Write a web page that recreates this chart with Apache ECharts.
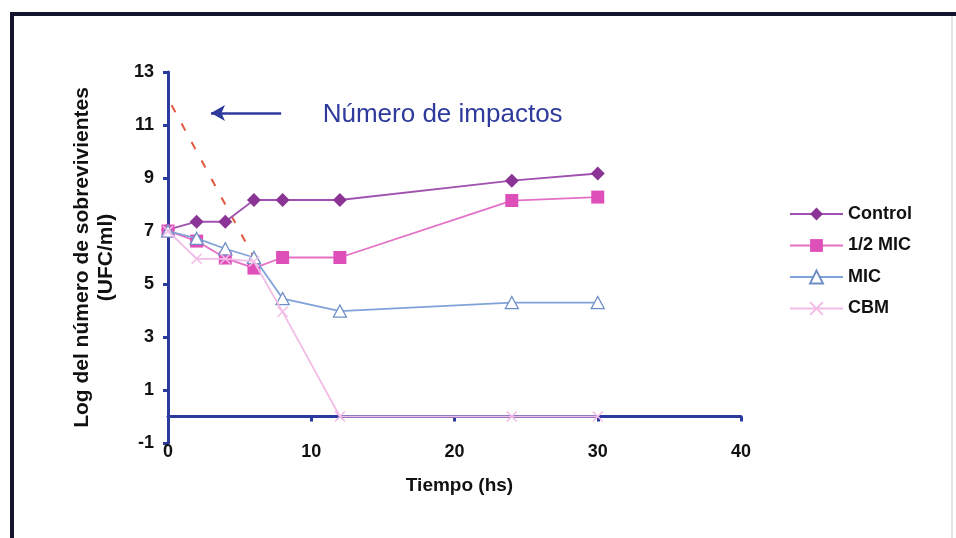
<!DOCTYPE html>
<html><head><meta charset="utf-8">
<script src="https://cdn.jsdelivr.net/npm/echarts@6/dist/echarts.min.js"></script>
<style>html,body{margin:0;padding:0;background:#fff}#c{width:956px;height:538px}</style>
</head><body><div id="c"></div>
<script>
// ---- data ----
const times = [0, 2, 4, 6, 8, 12, 24, 30];
const control = [7.05, 7.35, 7.35, 8.17, 8.17, 8.17, 8.9, 9.17];
const halfMic = [7.0, 6.62, 5.98, 5.6, 6.0, 6.0, 8.15, 8.28];
const mic = [7.0, 6.72, 6.33, 6.0, 4.45, 3.98, 4.3, 4.3];
const cbm = [7.0, 5.95, 5.95, 5.85, 3.95, 0, 0, 0];
const impactTimes = [0.25, 6];
const impactValues = [11.75, 6.0];
const seriesNames = ['Control', '1/2 MIC', 'MIC', 'CBM'];
const xTicks = [0, 10, 20, 30, 40];
const yTicks = [-1, 1, 3, 5, 7, 9, 11, 13];
const xAxisTitle = 'Tiempo (hs)';
const yAxisTitle = 'Log del número de sobrevivientes\n(UFC/ml)';
const annotationText = 'Número de impactos';
const arrowFrom = [7.9, 11.45];
const arrowTo = [3.0, 11.45];
const textAt = [10.8, 11.4];

function pairs(xs, ys) { return xs.map((x, i) => [x, ys[i]]); }

const AX = '#2B3A9E';
const FONT = '"Liberation Sans", Arial, sans-serif';
const chart = echarts.init(document.getElementById('c'), null, {renderer: 'canvas'});

const option = {
  animation: false,
  backgroundColor: '#ffffff',
  grid: {left: 168, right: 215, top: 72, bottom: 95, containLabel: false},
  legend: {
    data: seriesNames,
    orient: 'vertical',
    left: 784, top: 200,
    itemWidth: 53, itemHeight: 16, itemGap: 13.5,
    textStyle: {fontFamily: FONT, fontWeight: 'bold', fontSize: 18, color: '#111', lineHeight: 18}
  },
  xAxis: {
    type: 'value', min: xTicks[0], max: xTicks[xTicks.length - 1], interval: 10,
    name: xAxisTitle, nameLocation: 'middle', nameGap: 33,
    nameTextStyle: {fontFamily: FONT, fontWeight: 'bold', fontSize: 19, color: '#111', padding: [0, 0, 0, 10]},
    axisLine: {onZero: true, lineStyle: {color: AX, width: 3}},
    axisTick: {show: true, length: 5, lineStyle: {color: AX, width: 3}},
    axisLabel: {margin: 0, fontFamily: FONT, fontWeight: 'bold', fontSize: 18, color: '#111'},
    splitLine: {show: false}
  },
  yAxis: {
    type: 'value', min: yTicks[0], max: yTicks[yTicks.length - 1],
    name: yAxisTitle, nameLocation: 'middle', nameRotate: 90, nameGap: 50,
    nameTextStyle: {fontFamily: FONT, fontWeight: 'bold', fontSize: 21, color: '#111', lineHeight: 24, align: 'center'},
    axisLine: {show: true, lineStyle: {color: AX, width: 3}},
    axisTick: {show: true, length: 5, customValues: yTicks, lineStyle: {color: AX, width: 3}},
    axisLabel: {margin: 14, customValues: yTicks, fontFamily: FONT, fontWeight: 'bold', fontSize: 18, color: '#111'},
    splitLine: {show: false}
  },
  series: [
    {
      name: 'impactos', type: 'line', data: pairs(impactTimes, impactValues), symbol: 'none', silent: true, z: 1,
      lineStyle: {color: '#E2583E', width: 2, type: [8, 13]},
      markLine: {
        silent: true, symbol: ['none', 'arrow'], symbolSize: [12, 14], label: {show: false},
        lineStyle: {color: '#2E3A9C', width: 2.5, type: 'solid'},
        data: [[{coord: arrowFrom}, {coord: arrowTo}]]
      }
    },
    {
      name: seriesNames[0], type: 'line', data: pairs(times, control), symbol: 'diamond', symbolSize: 14,
      itemStyle: {color: '#8A3596'}, lineStyle: {color: '#A052B0', width: 1.8}, z: 3
    },
    {
      name: seriesNames[1], type: 'line', data: pairs(times, halfMic), symbol: 'rect', symbolSize: 13,
      itemStyle: {color: '#DE4FB9'}, lineStyle: {color: '#E470C6', width: 1.8}, z: 4
    },
    {
      name: seriesNames[2], type: 'line', data: pairs(times, mic), symbol: 'triangle', symbolSize: [13, 12],
      itemStyle: {color: '#ffffff', borderColor: '#6E8FC5', borderWidth: 1.3}, lineStyle: {color: '#7FA2D8', width: 1.8}, z: 5
    },
    {
      name: seriesNames[3], type: 'line', data: pairs(times, cbm), symbol: 'path://M0,0L10,10M10,0L0,10', symbolSize: 10,
      itemStyle: {color: '#F2BCE6', borderColor: '#F2BCE6', borderWidth: 1.5}, lineStyle: {color: '#F2BCE6', width: 1.8}, z: 6
    }
  ]
};
chart.setOption(option);

const tp = chart.convertToPixel({gridIndex: 0}, textAt);
chart.setOption({
  graphic: [
    {type: 'line', shape: {x1: 10, y1: 14, x2: 956, y2: 14}, style: {stroke: '#14142e', lineWidth: 4}, silent: true},
    {type: 'line', shape: {x1: 12, y1: 12, x2: 12, y2: 538}, style: {stroke: '#14142e', lineWidth: 4}, silent: true},
    {type: 'line', shape: {x1: 952, y1: 16, x2: 952, y2: 538}, style: {stroke: '#e6e6e6', lineWidth: 2}, silent: true},
    {type: 'text', x: tp[0], y: tp[1], silent: true,
     style: {text: annotationText, font: '26px ' + FONT, fill: '#2E3A9C', verticalAlign: 'middle', align: 'left'}}
  ]
});
</script>
</body></html>
